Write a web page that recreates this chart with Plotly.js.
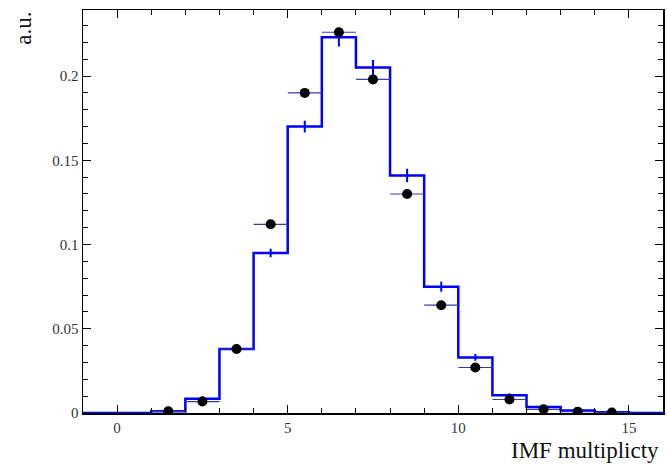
<!DOCTYPE html>
<html>
<head>
<meta charset="utf-8">
<script src="https://cdn.plot.ly/plotly-3.0.1.min.js"></script>
<style>html,body{margin:0;padding:0;background:#fff;}</style>
</head>
<body>
<div id="chart" style="width:667px;height:467px;"></div>
<script>
// Histogram (simulation) bin centers, contents and statistical errors
var binCenters = [-0.5, 0.5, 1.5, 2.5, 3.5, 4.5, 5.5, 6.5, 7.5, 8.5, 9.5, 10.5, 11.5, 12.5, 13.5, 14.5, 15.5];
var histValues = [0, 0, 0.001, 0.0085, 0.038, 0.095, 0.170, 0.223, 0.205, 0.141, 0.075, 0.033, 0.0105, 0.0035, 0.0015, 0.0005, 0];
var histErrors = [0, 0, 0.0005, 0.0015, 0.0025, 0.0025, 0.0035, 0.0055, 0.0045, 0.004, 0.003, 0.002, 0.0012, 0.0007, 0.0004, 0.0002, 0];

// Data points (experiment)
var dataX = [1.5, 2.5, 3.5, 4.5, 5.5, 6.5, 7.5, 8.5, 9.5, 10.5, 11.5, 12.5, 13.5, 14.5];
var dataY = [0.001, 0.0068, 0.038, 0.112, 0.190, 0.226, 0.198, 0.130, 0.064, 0.027, 0.008, 0.0022, 0.0008, 0.0003];
var binHalfWidth = 0.5;

var xTickVals = [0, 5, 10, 15];
var xTickText = ["0", "5", "10", "15"];
var yTickVals = [0, 0.05, 0.1, 0.15, 0.2];
var yTickText = ["0", "0.05", "0.1", "0.15", "0.2"];

// build step outline from bins
var stepX = [], stepY = [];
for (var i = 0; i < binCenters.length; i++) {
  stepX.push(binCenters[i] - binHalfWidth);
  stepY.push(histValues[i]);
}
stepX.push(binCenters[binCenters.length - 1] + binHalfWidth);
stepY.push(histValues[histValues.length - 1]);

var dataErrX = dataX.map(function(){ return binHalfWidth; });

var traces = [
  {
    x: stepX, y: stepY, type: 'scatter', mode: 'lines',
    line: {shape: 'hv', color: '#0000ff', width: 2.5},
    hoverinfo: 'skip', showlegend: false
  },
  {
    x: binCenters, y: histValues, type: 'scatter', mode: 'markers',
    marker: {size: 1, color: 'rgba(0,0,255,0)'},
    error_y: {type: 'data', array: histErrors, visible: true, color: '#0000ff', thickness: 2, width: 0},
    showlegend: false
  },
  {
    x: dataX, y: dataY, type: 'scatter', mode: 'markers',
    marker: {symbol: 'circle', size: 10, color: '#000000'},
    error_x: {type: 'data', array: dataErrX, visible: true, color: '#3a3ab0', thickness: 1.2, width: 0},
    showlegend: false
  }
];

var axisFont = {family: '"Liberation Serif", "Times New Roman", serif', size: 15, color: '#333'};
var titleFont = {family: '"Liberation Serif", "Times New Roman", serif', size: 23, color: '#111'};

var layout = {
  width: 667, height: 467,
  margin: {l: 83, r: 4, t: 10, b: 54},
  paper_bgcolor: '#ffffff', plot_bgcolor: '#ffffff',
  showlegend: false,
  xaxis: {
    range: [-1, 16], showgrid: false, zeroline: false,
    showline: true, linecolor: '#000', linewidth: 1.5, mirror: 'ticks',
    ticks: 'inside', ticklen: 8, tickwidth: 1, tickcolor: '#000',
    tickvals: xTickVals, ticktext: xTickText,
    tickfont: axisFont,
    minor: {dtick: 1, tick0: 0, ticks: 'inside', ticklen: 5, tickwidth: 1, tickcolor: '#000'}
  },
  yaxis: {
    range: [0, 0.2392], showgrid: false, zeroline: false,
    showline: true, linecolor: '#000', linewidth: 1.5, mirror: 'ticks',
    ticks: 'inside', ticklen: 8, tickwidth: 1, tickcolor: '#000',
    tickvals: yTickVals, ticktext: yTickText,
    tickfont: axisFont,
    minor: {dtick: 0.01, tick0: 0, ticks: 'inside', ticklen: 5, tickwidth: 1, tickcolor: '#000'}
  },
  annotations: [
    {text: 'IMF multiplicty', xref: 'paper', yref: 'paper', x: 0.997, y: -0.094,
     xanchor: 'right', yanchor: 'middle', showarrow: false,
     font: titleFont},
    {text: 'a.u.', xref: 'paper', yref: 'paper', x: -0.078, y: 1.0,
     xanchor: 'right', yanchor: 'top', showarrow: false, textangle: -90,
     font: titleFont}
  ]
};

Plotly.newPlot('chart', traces, layout, {displayModeBar: false, staticPlot: true});
</script>
</body>
</html>
